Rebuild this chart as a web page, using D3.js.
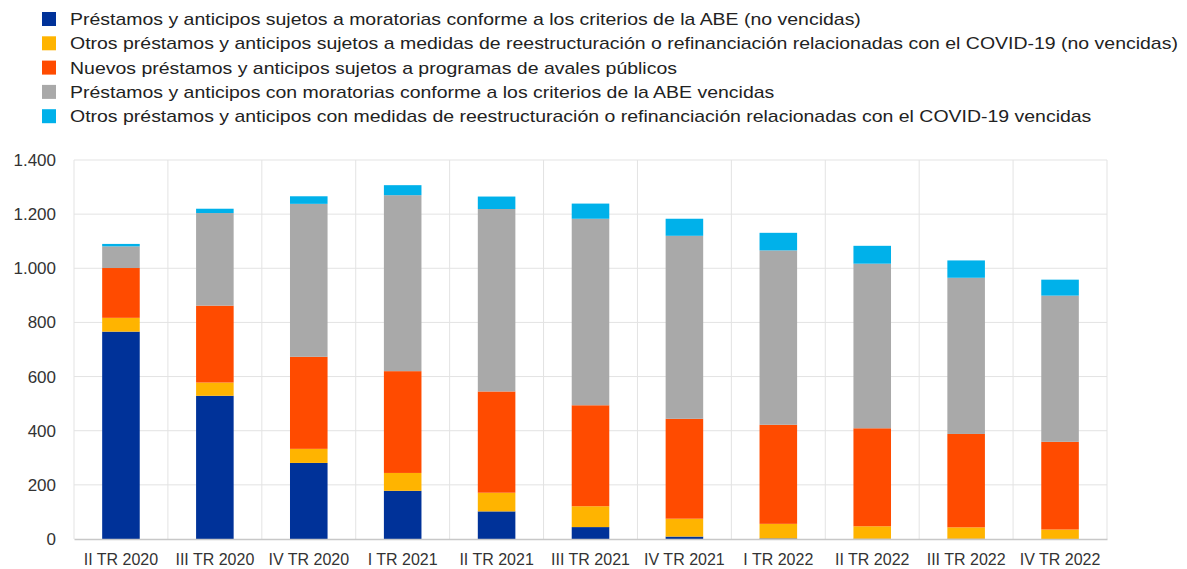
<!DOCTYPE html>
<html>
<head>
<meta charset="utf-8">
<script src="https://cdn.jsdelivr.net/npm/d3@7"></script>
<style>
  body { margin: 0; background: #fff; }
  svg { font-family: "Liberation Sans", Arial, sans-serif; }
</style>
</head>
<body>
<script>
// data (billions)
var categories = ["II TR 2020","III TR 2020","IV TR 2020","I TR 2021","II TR 2021","III TR 2021",
                  "IV TR 2021","I TR 2022","II TR 2022","III TR 2022","IV TR 2022"];
var moratoriaNoVenc   = [766, 529, 281, 178, 102, 44, 9, 2, 1, 1, 0];
var reestructNoVenc   = [51, 49, 52, 66, 69, 77, 66, 54, 46, 42, 35];
var avalesPublicos    = [184, 284, 340, 376, 374, 373, 369, 366, 362, 345, 324];
var moratoriaVenc     = [80, 342, 565, 650, 674, 689, 676, 644, 608, 577, 540];
var reestructVenc     = [9, 16, 28, 37, 46, 56, 63, 65, 66, 64, 59];
var yTicks = [0, 200, 400, 600, 800, 1000, 1200, 1400];

var seriesNames = [
  "Préstamos y anticipos sujetos a moratorias conforme a los criterios de la ABE (no vencidas)",
  "Otros préstamos y anticipos sujetos a medidas de reestructuración o refinanciación relacionadas con el COVID-19 (no vencidas)",
  "Nuevos préstamos y anticipos sujetos a programas de avales públicos",
  "Préstamos y anticipos con moratorias conforme a los criterios de la ABE vencidas",
  "Otros préstamos y anticipos con medidas de reestructuración o refinanciación relacionadas con el COVID-19 vencidas"
];
var seriesValues = [moratoriaNoVenc, reestructNoVenc, avalesPublicos, moratoriaVenc, reestructVenc];
var colors = ["#003299", "#ffb400", "#ff4b00", "#a9a9a9", "#00b1ea"];

var W = 1187, H = 569;
var margin = {top: 160, right: 80, bottom: 30, left: 74};

var svg = d3.select("body").append("svg")
    .attr("width", W)
    .attr("height", H);

//legend (text in the source is a bit stretched sideways)
var legend = svg.append("g").attr("transform", "translate(42,0)");
seriesNames.forEach(function(name, i) {
  var yy = 19 + i * 24.3;
  legend.append("rect")
    .attr("x", 0).attr("y", yy - 7)
    .attr("width", 14).attr("height", 14)
    .attr("fill", colors[i]);
  var t = legend.append("text")
    .attr("x", 28).attr("y", yy)
    .attr("dy", "0.35em")
    .style("font-size", "17px")
    .attr("fill", "#222")
    .text(name);
  var len = t.node().getComputedTextLength();
  t.attr("textLength", len * 1.145).attr("lengthAdjust", "spacingAndGlyphs");
});

//build stacked data
var rows = categories.map(function(c, j) {
  var r = {cat: c};
  seriesValues.forEach(function(s, i) { r["s" + i] = s[j]; });
  return r;
});
var keys = seriesValues.map(function(s, i) { return "s" + i; });
var stacked = d3.stack().keys(keys)(rows);

var x = d3.scaleBand()
    .domain(categories)
    .range([margin.left, W - margin.right])
    .paddingInner(0).paddingOuter(0);

var y = d3.scaleLinear()
    .domain([0, 1400])
    .range([H - margin.bottom, margin.top]);

//grid
var grid = svg.append("g");
grid.selectAll("line.h")
  .data(yTicks.slice(1))
  .enter().append("line")
  .attr("x1", margin.left).attr("x2", W - margin.right)
  .attr("y1", function(d) { return y(d); }).attr("y2", function(d) { return y(d); })
  .attr("stroke", "#e3e3e3").attr("stroke-width", 1);
grid.selectAll("line.v")
  .data(categories.slice(1).concat(["end"]))
  .enter().append("line")
  .attr("x1", function(d, i) { return x(categories[0]) + (i + 1) * x.bandwidth(); })
  .attr("x2", function(d, i) { return x(categories[0]) + (i + 1) * x.bandwidth(); })
  .attr("y1", y(0)).attr("y2", y(1400))
  .attr("stroke", "#e3e3e3").attr("stroke-width", 1);
grid.append("line")
  .attr("x1", margin.left).attr("x2", margin.left)
  .attr("y1", y(0)).attr("y2", y(1400))
  .attr("stroke", "#e3e3e3");

//bars
var barW = x.bandwidth() * 0.4;
svg.append("g").selectAll("g")
  .data(stacked)
  .enter().append("g")
  .attr("fill", function(d, i) { return colors[i]; })
  .selectAll("rect")
  .data(function(d) { return d; })
  .enter().append("rect")
  .attr("x", function(d) { return x(d.data.cat) + (x.bandwidth() - barW) / 2; })
  .attr("width", barW)
  .attr("y", function(d) { return y(d[1]); })
  .attr("height", function(d) { return y(d[0]) - y(d[1]); });

//axes
var fmt = function(d) { return d3.format(",")(d).replace(/,/g, "."); };
var yAxis = svg.append("g")
  .attr("transform", "translate(" + (margin.left - 18) + ",0)")
  .call(d3.axisLeft(y).tickValues(yTicks).tickFormat(fmt).tickSize(0).tickPadding(0));
yAxis.select(".domain").remove();
yAxis.selectAll("text").style("font-size", "17px").attr("fill", "#333");

var xAxis = svg.append("g")
  .attr("transform", "translate(0," + y(0) + ")")
  .call(d3.axisBottom(x).tickSize(0).tickPadding(15));
xAxis.select(".domain").attr("stroke", "#c8c8c8").attr("stroke-width", 1.5);
xAxis.selectAll("text").style("font-size", "16px").attr("fill", "#333");
</script>
</body>
</html>
